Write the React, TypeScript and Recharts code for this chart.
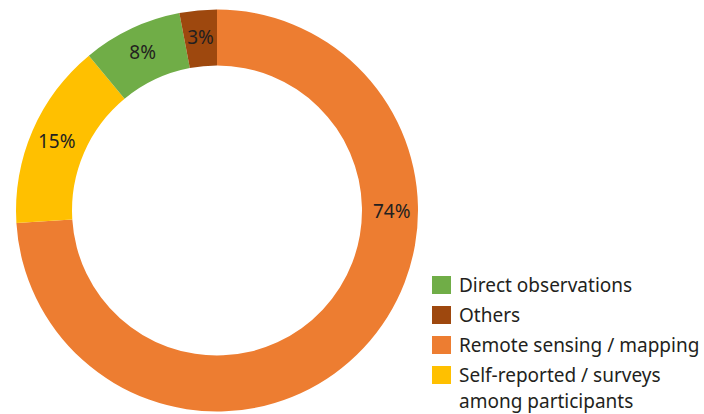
import { PieChart, Pie, Cell, Legend } from "recharts";

// share of studies by data collection method (%)
const categories = [
  "Remote sensing / mapping",
  "Self-reported / surveys among participants",
  "Direct observations",
  "Others",
];
const shares = [74, 15, 8, 3];
const colors = ["#ED7D31", "#FFC000", "#70AD47", "#9E480E"];

const data = categories.map((name, i) => ({ name, value: shares[i] }));

const FONT = "'Noto Sans', sans-serif";
const RADIAN = Math.PI / 180;

// the big slice's label sits at 3 o'clock in the original, not at mid-angle
const labelAngleOverride: Record<number, number> = { 0: 0 };

const renderLabel = (props: any) => {
  const { cx, cy, midAngle, innerRadius, outerRadius, value, index } = props;
  const angle = labelAngleOverride[index] ?? midAngle;
  const r = innerRadius + (outerRadius - innerRadius) * 0.53;
  const x = cx + r * Math.cos(-angle * RADIAN);
  const y = cy + r * Math.sin(-angle * RADIAN);
  return (
    <text
      x={x}
      y={y}
      textAnchor="middle"
      dominantBaseline="central"
      fill="#231f20"
      fontSize={19}
      fontFamily={FONT}
    >
      {`${value}%`}
    </text>
  );
};

const renderLegend = (props: any) => {
  const items = [...(props.payload || [])].sort((a: any, b: any) =>
    String(a.value).localeCompare(String(b.value))
  );
  return (
    <div style={{ fontFamily: FONT, fontSize: 19, color: "#231f20" }}>
      {items.map((it: any) => (
        <div
          key={it.value}
          style={{ display: "flex", alignItems: "flex-start", marginBottom: 4 }}
        >
          <div
            style={{
              width: 19,
              height: 18,
              marginTop: 4,
              marginRight: 8,
              background: it.color,
              flex: "none",
            }}
          />
          <span style={{ lineHeight: "26px", width: 245 }}>{it.value}</span>
        </div>
      ))}
    </div>
  );
};

export default function App() {
  return (
    <div style={{ position: "absolute", left: 0, top: 0, background: "#fff" }}>
      <PieChart
        width={704}
        height={414}
        margin={{ top: 0, right: 0, bottom: 0, left: 0 }}
      >
        <Pie
          data={data}
          dataKey="value"
          nameKey="name"
          cx={217}
          cy={210.5}
          innerRadius={145}
          outerRadius={201}
          startAngle={90}
          endAngle={-270}
          stroke="none"
          label={renderLabel}
          labelLine={false}
          isAnimationActive={false}
        >
          {data.map((d, i) => (
            <Cell key={d.name} fill={colors[i]} />
          ))}
        </Pie>
        <Legend
          content={renderLegend}
          wrapperStyle={{ position: "absolute", left: 432, top: 272, width: 272 }}
        />
      </PieChart>
    </div>
  );
}
